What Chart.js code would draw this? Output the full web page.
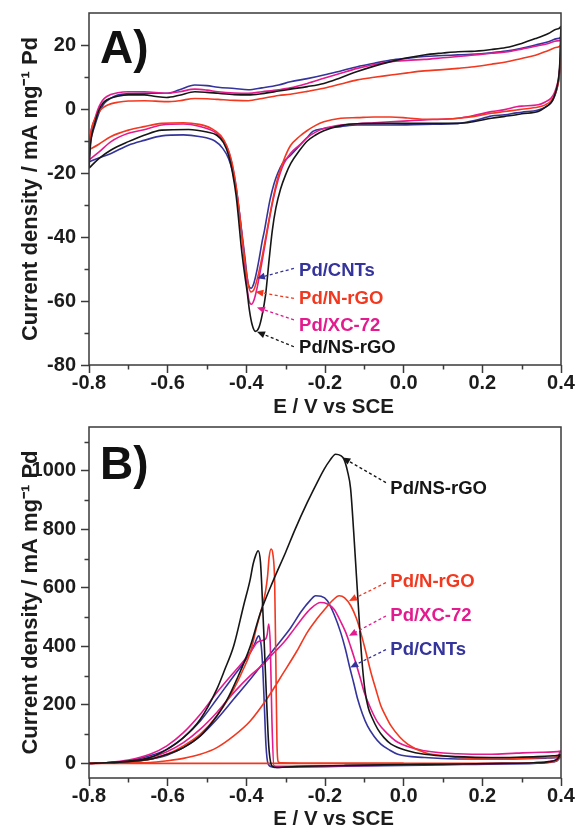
<!DOCTYPE html>
<html>
<head>
<meta charset="utf-8">
<script src="https://cdn.jsdelivr.net/npm/chart.js@4.4.0/dist/chart.umd.min.js"></script>
<style>
  html, body { margin: 0; padding: 0; background: #fff; }
  #wrap { position: relative; width: 576px; height: 832px; overflow: hidden; }
  .panel { position: absolute; left: 0; width: 576px; height: 440px; }
</style>
</head>
<body>
<div id="wrap">
  <div class="panel" style="top:0"><canvas id="chartA" width="576" height="440"></canvas></div>
  <div class="panel" style="top:392px"><canvas id="chartB" width="576" height="440"></canvas></div>
</div>
<script>
// axis ticks
const xTicks = [-0.8, -0.6, -0.4, -0.2, 0.0, 0.2, 0.4];
const xMinor = [-0.7, -0.5, -0.3, -0.1, 0.1, 0.3];
const aYTicks = [-80, -60, -40, -20, 0, 20];
const aYMinor = [-70, -50, -30, -10, 10];
const bYTicks = [0, 200, 400, 600, 800, 1000];
const bYMinor = [100, 300, 500, 700, 900, 1100];

// panel A: CV curves [E (V), j (mA/mg)], anodic sweep then cathodic sweep
const aNSrGO = [
  [-0.8,-18.5],[-0.796,-11],[-0.791,-7],[-0.786,-4.8],[-0.778,-1.4],[-0.77,0.8],[-0.761,2.3],[-0.745,3.4],
  [-0.727,4.0],[-0.7,4.4],[-0.659,4.4],[-0.63,3.9],[-0.603,3.6],[-0.57,4.3],[-0.531,5.4],[-0.5,5.2],
  [-0.472,4.9],[-0.43,4.5],[-0.395,4.4],[-0.36,4.8],[-0.318,5.6],[-0.288,6.2],[-0.245,7.0],[-0.203,8.0],
  [-0.16,9.8],[-0.118,11.7],[-0.075,13.4],[-0.033,14.8],[0.01,16.0],[0.052,16.9],[0.1,17.5],[0.138,17.9],
  [0.172,18.0],[0.223,18.6],[0.26,19.2],[0.3,20.5],[0.335,22.0],[0.368,23.6],[0.39,25],[0.4,25.9],
  [0.398,17],[0.395,11],[0.39,7],[0.383,4],[0.375,2],[0.36,0.5],[0.342,-0.8],[0.3,-1.5],
  [0.287,-1.8],[0.257,-2.3],[0.223,-2.9],[0.18,-3.9],[0.138,-4.5],[0.052,-4.5],[-0.033,-4.5],[-0.118,-4.6],
  [-0.16,-5.2],[-0.203,-6.8],[-0.225,-8.2],[-0.245,-10],[-0.265,-13],[-0.287,-17],[-0.3,-20.5],[-0.313,-25],
  [-0.325,-31],[-0.334,-38],[-0.342,-47],[-0.351,-58],[-0.36,-64.5],[-0.368,-68.3],[-0.377,-69.5],[-0.385,-67.5],
  [-0.392,-63],[-0.398,-57],[-0.405,-51],[-0.413,-43],[-0.42,-34],[-0.426,-27],[-0.435,-20],[-0.445,-14.5],
  [-0.458,-10.5],[-0.475,-8.2],[-0.5,-7.2],[-0.547,-6.4],[-0.615,-6.6],[-0.66,-8.2],[-0.7,-10.2],[-0.744,-12.8],
  [-0.775,-15.5],[-0.8,-18.5]
];
const aNrGO = [
  [-0.8,-12.8],[-0.796,-8],[-0.791,-5],[-0.786,-3.4],[-0.778,-1.4],[-0.77,-0.2],[-0.761,0.7],[-0.745,1.6],
  [-0.727,2.1],[-0.7,2.5],[-0.659,2.6],[-0.603,2.3],[-0.57,2.6],[-0.531,3.3],[-0.5,3.2],[-0.472,3.0],
  [-0.43,2.7],[-0.395,2.6],[-0.36,3.3],[-0.318,4.2],[-0.288,4.6],[-0.245,5.5],[-0.203,6.5],[-0.16,7.8],
  [-0.118,9.1],[-0.075,9.9],[-0.033,10.6],[0.01,11.3],[0.052,11.9],[0.1,12.3],[0.138,12.7],[0.172,13.1],
  [0.223,14.0],[0.26,14.7],[0.3,15.8],[0.335,16.8],[0.368,18.3],[0.39,19.3],[0.4,20],
  [0.398,14],[0.395,9.5],[0.39,6.5],[0.383,4.2],[0.375,2.6],[0.36,1.3],[0.342,0.6],[0.3,-0.1],
  [0.287,-0.3],[0.257,-0.8],[0.223,-1.35],[0.18,-2.3],[0.138,-2.9],[0.095,-3.2],[0.052,-3.2],[0.01,-2.8],
  [-0.033,-2.5],[-0.075,-2.5],[-0.118,-2.7],[-0.16,-2.9],[-0.203,-4.0],[-0.225,-5.2],[-0.246,-6.8],[-0.265,-8.6],
  [-0.288,-11.5],[-0.305,-16],[-0.32,-21.5],[-0.333,-28.5],[-0.343,-35],[-0.352,-41],[-0.362,-47.5],[-0.372,-53],
  [-0.381,-56.5],[-0.388,-57.2],[-0.394,-55.5],[-0.4,-51],[-0.406,-45],[-0.413,-37.5],[-0.42,-30],[-0.428,-22.5],
  [-0.438,-16],[-0.45,-11.5],[-0.465,-8.3],[-0.49,-6.0],[-0.52,-4.8],[-0.56,-4.3],[-0.615,-4.5],[-0.66,-5.5],
  [-0.7,-6.6],[-0.744,-8.6],[-0.775,-11],[-0.8,-12.8]
];
const aXC72 = [
  [-0.8,-15.9],[-0.796,-8],[-0.791,-5],[-0.786,-3.4],[-0.778,-0.3],[-0.77,1.8],[-0.761,3.3],[-0.745,4.5],
  [-0.727,5.1],[-0.7,5.4],[-0.659,5.4],[-0.603,4.9],[-0.57,5.4],[-0.531,6.2],[-0.5,5.9],[-0.472,5.4],
  [-0.43,5.0],[-0.395,4.9],[-0.36,5.4],[-0.318,6.0],[-0.288,6.6],[-0.245,8.0],[-0.203,9.6],[-0.16,11.2],
  [-0.118,12.7],[-0.075,13.9],[-0.033,14.8],[0.01,15.2],[0.052,15.5],[0.1,16.0],[0.138,16.4],[0.172,16.8],
  [0.223,17.4],[0.26,17.8],[0.3,18.7],[0.335,19.6],[0.368,20.5],[0.39,21.3],[0.4,21.8],
  [0.398,15],[0.395,10.5],[0.39,7.5],[0.383,5],[0.375,3.4],[0.36,2.2],[0.342,1.3],[0.3,0.9],
  [0.287,0.7],[0.257,-0.2],[0.223,-0.83],[0.18,-2.0],[0.138,-2.9],[0.095,-3.2],[0.052,-3.4],[0.01,-3.7],
  [-0.033,-4.0],[-0.075,-4.3],[-0.118,-4.6],[-0.16,-5.0],[-0.203,-6.1],[-0.225,-7.3],[-0.246,-9.0],[-0.265,-11.3],
  [-0.288,-13.9],[-0.305,-17.2],[-0.32,-22.5],[-0.333,-29],[-0.343,-35.5],[-0.352,-42],[-0.362,-49],[-0.372,-55.5],
  [-0.38,-59.5],[-0.387,-61],[-0.393,-60],[-0.398,-56],[-0.404,-49],[-0.41,-41],[-0.417,-33],[-0.425,-25],
  [-0.435,-18],[-0.447,-12.5],[-0.46,-9.5],[-0.48,-7.2],[-0.52,-5.4],[-0.56,-4.7],[-0.615,-5.0],[-0.66,-6.5],
  [-0.7,-7.6],[-0.744,-10.2],[-0.775,-13.5],[-0.8,-15.9]
];
const aCNTs = [
  [-0.8,-16.5],[-0.796,-10],[-0.791,-7.5],[-0.786,-5.5],[-0.778,-2.4],[-0.77,0],[-0.761,1.8],[-0.745,3.3],
  [-0.727,4.4],[-0.7,4.8],[-0.659,4.9],[-0.603,4.9],[-0.57,6.0],[-0.531,7.5],[-0.5,7.3],[-0.472,6.8],
  [-0.43,6.4],[-0.395,6.0],[-0.36,6.6],[-0.318,7.5],[-0.288,8.5],[-0.245,9.5],[-0.203,10.6],[-0.16,11.9],
  [-0.118,13.2],[-0.075,14.3],[-0.033,15.3],[0.01,15.9],[0.052,16.4],[0.1,16.7],[0.138,16.9],[0.172,17.1],
  [0.223,17.6],[0.26,18.1],[0.3,19],[0.335,20],[0.368,21],[0.39,22],[0.4,22.6],
  [0.398,15],[0.395,10],[0.39,6.5],[0.383,3.8],[0.375,2],[0.36,0.6],[0.342,-0.3],[0.3,-1.0],
  [0.287,-1.2],[0.257,-1.8],[0.223,-2.2],[0.18,-3.6],[0.138,-4.5],[0.052,-4.8],[-0.033,-5.0],[-0.118,-5.0],
  [-0.16,-5.5],[-0.203,-6.1],[-0.231,-7.0],[-0.246,-9.0],[-0.265,-11.5],[-0.288,-14.5],[-0.308,-17],[-0.32,-20],
  [-0.33,-23.5],[-0.34,-28.5],[-0.3475,-33.5],[-0.354,-38],[-0.36,-41.5],[-0.367,-46.5],[-0.374,-51],[-0.381,-54.5],
  [-0.388,-56],[-0.393,-55.5],[-0.398,-52.5],[-0.403,-47],[-0.41,-40],[-0.418,-32],[-0.426,-25],[-0.435,-19.5],
  [-0.445,-15.5],[-0.46,-12.3],[-0.48,-10],[-0.52,-8.6],[-0.56,-8.1],[-0.615,-8.4],[-0.66,-9.8],[-0.7,-11.3],
  [-0.744,-13.9],[-0.775,-15.3],[-0.8,-16.5]
];

// panel B: ethanol oxidation CV curves [E (V), j (mA/mg)]
const bNSrGO = [
  [-0.8,0],[-0.75,2],[-0.7,6],[-0.645,14],[-0.602,31],[-0.56,54],[-0.517,94],[-0.475,162],
  [-0.45,215],[-0.424,288],[-0.39,400],[-0.364,516],[-0.33,630],[-0.3,722],[-0.276,800],[-0.245,892],
  [-0.22,960],[-0.202,1006],[-0.188,1035],[-0.173,1057],[-0.16,1052],[-0.152,1040],[-0.143,1000],[-0.135,940],
  [-0.127,790],[-0.12,640],[-0.113,490],[-0.106,350],[-0.098,245],[-0.09,190],[-0.08,155],[-0.066,117],
  [-0.05,88],[-0.032,66],[0.01,43],[0.053,31],[0.138,23],[0.223,20],[0.287,21],[0.34,23],[0.38,26],[0.4,30],
  [0.39,14],[0.37,6],[0.33,2],[0.25,0],[0.15,-2],[0.05,-3.5],[-0.05,-5],[-0.15,-7],[-0.25,-10],[-0.3,-12.5],
  [-0.322,-14],[-0.335,-8],[-0.343,60],[-0.349,231],[-0.356,459],[-0.364,687],[-0.37,727],[-0.376,712],
  [-0.383,680],[-0.39,630],[-0.407,539],[-0.432,402],[-0.455,320],[-0.475,254],[-0.517,151],[-0.56,88],
  [-0.602,48],[-0.645,20],[-0.7,8],[-0.75,3],[-0.8,0]
];
const bNrGO = [
  [-0.8,0],[-0.7,1.5],[-0.645,3],[-0.602,9],[-0.56,17],[-0.517,31],[-0.475,54],[-0.432,94],
  [-0.39,145],[-0.348,220],[-0.305,311],[-0.271,385],[-0.245,448],[-0.22,495],[-0.2,528],[-0.18,558],
  [-0.164,573],[-0.15,566],[-0.134,538],[-0.12,495],[-0.109,447],[-0.096,380],[-0.083,310],[-0.07,250],
  [-0.058,197],[-0.045,160],[-0.032,128],[-0.01,90],[0.01,66],[0.053,37],[0.1,26],[0.138,20],
  [0.223,15],[0.3,17],[0.36,20],[0.4,25],
  [0.39,10],[0.37,4],[0.33,1.5],[0.25,0.5],[0.1,0],[-0.1,0],[-0.25,0.5],[-0.31,2],
  [-0.318,4],[-0.322,60],[-0.325,350],[-0.328,620],[-0.332,710],[-0.337,733],[-0.342,705],[-0.346,640],
  [-0.351,590],[-0.36,535],[-0.373,470],[-0.39,379],[-0.41,315],[-0.432,254],[-0.475,162],[-0.517,100],
  [-0.56,60],[-0.602,31],[-0.645,14],[-0.7,5],[-0.75,1],[-0.8,0]
];
const bNrGOBase = [[-0.8,0],[0.0,0]];
const bXC72 = [
  [-0.8,0],[-0.7,6],[-0.645,20],[-0.602,40],[-0.56,71],[-0.517,117],[-0.475,174],[-0.432,242],
  [-0.39,300],[-0.356,340],[-0.33,378],[-0.305,413],[-0.288,442],[-0.26,492],[-0.237,528],[-0.211,550],
  [-0.195,546],[-0.177,527],[-0.162,490],[-0.147,447],[-0.135,400],[-0.122,345],[-0.11,290],[-0.1,242],
  [-0.083,185],[-0.066,140],[-0.04,100],[-0.015,72],[0.053,43],[0.138,33],[0.223,31],[0.287,35],
  [0.35,38],[0.4,42],
  [0.39,16],[0.37,6],[0.33,2],[0.25,0],[0.15,-2],[0.05,-4],[-0.05,-6],[-0.15,-8],
  [-0.25,-9],[-0.3,-10],[-0.32,-10],[-0.33,-8],[-0.335,150],[-0.339,400],[-0.343,476],[-0.347,440],
  [-0.351,425],[-0.36,420],[-0.373,413],[-0.39,379],[-0.41,345],[-0.432,311],[-0.475,242],[-0.517,168],
  [-0.56,105],[-0.602,60],[-0.645,31],[-0.7,11],[-0.75,3],[-0.8,0]
];
const bCNTs = [
  [-0.8,0],[-0.7,4],[-0.645,14],[-0.602,28],[-0.56,54],[-0.517,94],[-0.475,151],[-0.432,220],
  [-0.39,288],[-0.356,345],[-0.33,390],[-0.305,432],[-0.288,462],[-0.26,520],[-0.237,558],[-0.224,573],
  [-0.21,571],[-0.194,556],[-0.177,510],[-0.16,447],[-0.148,390],[-0.138,333],[-0.127,275],[-0.117,220],
  [-0.105,170],[-0.092,128],[-0.075,92],[-0.058,66],[-0.035,45],[-0.015,31],[0.053,20],[0.138,15],
  [0.223,15],[0.3,16],[0.36,18],[0.4,22],
  [0.39,9],[0.37,3],[0.33,0],[0.25,-2],[0.15,-4],[0.05,-6],[-0.05,-8],[-0.15,-10],
  [-0.25,-12],[-0.3,-13],[-0.322,-14],[-0.335,-12],[-0.345,0],[-0.35,60],[-0.354,190],[-0.358,320],
  [-0.362,400],[-0.366,430],[-0.369,436],[-0.374,425],[-0.38,405],[-0.39,379],[-0.41,338],[-0.432,299],
  [-0.475,220],[-0.517,145],[-0.56,88],[-0.602,48],[-0.645,26],[-0.7,9],[-0.75,3],[-0.8,0]
];

const cBlack = '#161616';
const cRed = '#f2381f';
const cPink = '#e41a8f';
const cBlue = '#34349c';
const axisColor = '#3a3a3a';
const textColor = '#1c1c1c';
const fontFamily = "'Liberation Sans', Arial, Helvetica, sans-serif";

const pts = arr => arr.map(p => ({ x: p[0], y: p[1] }));

function curve(label, data, color) {
  return {
    label, data: pts(data), borderColor: color, backgroundColor: color,
    borderWidth: 1.6, showLine: true, pointRadius: 0, fill: false,
    cubicInterpolationMode: 'monotone'
  };
}

// frame, minor ticks, panel letter and the arrow labels
const decor = {
  id: 'decor',
  afterDraw(chart, args, opts) {
    const { ctx, chartArea: a, scales: { x, y } } = chart;
    ctx.save();
    ctx.strokeStyle = axisColor;
    ctx.lineWidth = 1.5;
    ctx.strokeRect(a.left, a.top, a.right - a.left, a.bottom - a.top);
    ctx.beginPath();
    opts.xMinor.forEach(v => {
      const px = Math.round(x.getPixelForValue(v)) + 0.5;
      ctx.moveTo(px, a.bottom); ctx.lineTo(px, a.bottom + 4.5);
    });
    opts.yMinor.forEach(v => {
      const py = Math.round(y.getPixelForValue(v)) + 0.5;
      ctx.moveTo(a.left - 4.5, py); ctx.lineTo(a.left, py);
    });
    ctx.stroke();

    ctx.fillStyle = '#111';
    ctx.font = 'bold 46px ' + fontFamily;
    ctx.textAlign = 'left';
    ctx.textBaseline = 'alphabetic';
    ctx.fillText(opts.letter, a.left + 11, a.top + opts.letterDy);

    opts.notes.forEach(n => {
      const tx = x.getPixelForValue(n.tail[0]), ty = y.getPixelForValue(n.tail[1]);
      const hx = x.getPixelForValue(n.tip[0]), hy = y.getPixelForValue(n.tip[1]);
      const ang = Math.atan2(hy - ty, hx - tx);
      const c = Math.cos(ang), s = Math.sin(ang);
      ctx.strokeStyle = n.color;
      ctx.fillStyle = n.color;
      ctx.lineWidth = 1.3;
      ctx.setLineDash([3, 2.5]);
      ctx.beginPath();
      ctx.moveTo(tx, ty);
      ctx.lineTo(hx - c * 6, hy - s * 6);
      ctx.stroke();
      ctx.setLineDash([]);
      ctx.beginPath();
      ctx.moveTo(hx, hy);
      ctx.lineTo(hx - c * 8 - s * 3.5, hy - s * 8 + c * 3.5);
      ctx.lineTo(hx - c * 8 + s * 3.5, hy - s * 8 - c * 3.5);
      ctx.closePath();
      ctx.fill();
      ctx.font = 'bold 18.5px ' + fontFamily;
      ctx.textBaseline = 'middle';
      ctx.fillText(n.text, x.getPixelForValue(n.at[0]), y.getPixelForValue(n.at[1]));
    });
    ctx.restore();
  }
};

const tickFont = { family: fontFamily, size: 20, weight: 'bold', lineHeight: 1 };
const titleFont = { family: fontFamily, size: 20.5, weight: 'bold', lineHeight: 1.2 };

function makeChart(id, datasets, cfg) {
  return new Chart(document.getElementById(id), {
    type: 'scatter',
    data: { datasets },
    options: {
      responsive: false,
      animation: false,
      events: [],
      layout: { autoPadding: false, padding: { top: cfg.padTop, right: 15, bottom: cfg.padBottom, left: 0 } },
      plugins: { legend: { display: false }, tooltip: { enabled: false }, decor: cfg.decor },
      scales: {
        x: {
          type: 'linear', min: -0.8, max: 0.4,
          afterBuildTicks: s => { s.ticks = xTicks.map(v => ({ value: v })); },
          afterFit: s => { s.height = cfg.xHeight; s.paddingLeft = 0; s.paddingRight = 0; },
          ticks: { color: textColor, font: tickFont, padding: 0, maxRotation: 0, autoSkip: false,
                   callback: v => v.toFixed(1) },
          grid: { drawOnChartArea: false, drawTicks: true, tickLength: 8, tickColor: axisColor, tickWidth: 1.5 },
          border: { display: false },
          title: { display: true, text: '   E / V vs SCE', color: textColor, font: titleFont, padding: 0 }
        },
        y: {
          type: 'linear', min: cfg.yMin, max: cfg.yMax,
          afterBuildTicks: s => { s.ticks = cfg.yTicks.map(v => ({ value: v })); },
          afterFit: s => { s.width = 89; s.paddingTop = 0; s.paddingBottom = 0; },
          ticks: { color: textColor, font: tickFont, padding: 5, autoSkip: false, callback: v => String(v) },
          grid: { drawOnChartArea: false, drawTicks: true, tickLength: 8, tickColor: axisColor, tickWidth: 1.5 },
          border: { display: false },
          title: { display: true, text: 'Current density / mA mg⁻¹ Pd', color: textColor,
                   font: { family: fontFamily, size: 22, weight: 'bold', lineHeight: 1.2 }, padding: { top: 18 } }
        }
      }
    },
    plugins: [decor]
  });
}

makeChart('chartA', [
  curve('Pd/NS-rGO', aNSrGO, cBlack),
  curve('Pd/N-rGO', aNrGO, cRed),
  curve('Pd/XC-72', aXC72, cPink),
  curve('Pd/CNTs', aCNTs, cBlue)
], {
  padTop: 13, padBottom: 20, xHeight: 55, yMin: -80, yMax: 30, yTicks: aYTicks,
  decor: {
    letter: 'A)', letterDy: 50, xMinor, yMinor: aYMinor,
    notes: [
      { text: 'Pd/CNTs', color: cBlue, at: [-0.266, -50.5], tail: [-0.279, -49.8], tip: [-0.373, -52.9] },
      { text: 'Pd/N-rGO', color: cRed, at: [-0.266, -59.5], tail: [-0.279, -59.2], tip: [-0.377, -57.1] },
      { text: 'Pd/XC-72', color: cPink, at: [-0.266, -67.7], tail: [-0.279, -65.9], tip: [-0.373, -62.0] },
      { text: 'Pd/NS-rGO', color: cBlack, at: [-0.266, -74.8], tail: [-0.279, -74.3], tip: [-0.373, -69.6] }
    ]
  }
});

makeChart('chartB', [
  curve('Pd/NS-rGO', bNSrGO, cBlack),
  curve('Pd/N-rGO', bNrGO, cRed),
  curve('Pd/N-rGO base', bNrGOBase, cRed),
  curve('Pd/XC-72', bXC72, cPink),
  curve('Pd/CNTs', bCNTs, cBlue)
], {
  padTop: 35, padBottom: 0, xHeight: 54, yMin: -50, yMax: 1150, yTicks: bYTicks,
  decor: {
    letter: 'B)', letterDy: 52, xMinor, yMinor: bYMinor,
    notes: [
      { text: 'Pd/NS-rGO', color: cBlack, at: [-0.034, 937], tail: [-0.045, 960], tip: [-0.156, 1046] },
      { text: 'Pd/N-rGO', color: cRed, at: [-0.034, 619], tail: [-0.045, 618], tip: [-0.139, 555] },
      { text: 'Pd/XC-72', color: cPink, at: [-0.034, 504], tail: [-0.045, 504], tip: [-0.139, 436] },
      { text: 'Pd/CNTs', color: cBlue, at: [-0.034, 388], tail: [-0.045, 389], tip: [-0.136, 328] }
    ]
  }
});
</script>
</body>
</html>
